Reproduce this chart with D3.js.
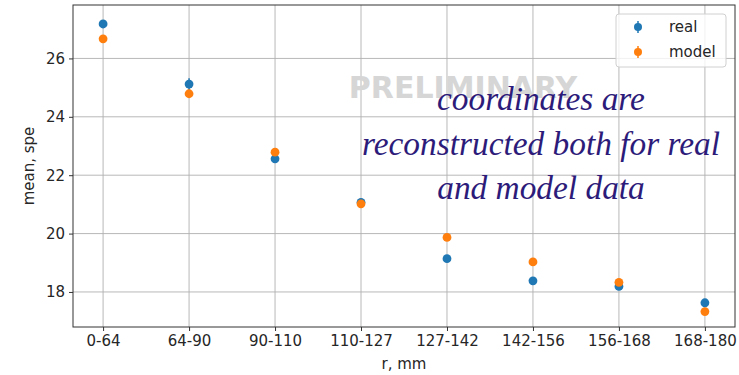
<!DOCTYPE html>
<html>
<head>
<meta charset="utf-8">
<script src="https://cdn.jsdelivr.net/npm/d3@7"></script>
<style>
  html, body { margin: 0; padding: 0; background: #fff; }
  svg { display: block; }
</style>
</head>
<body>
<svg id="chart" width="739" height="375"></svg>
<script>
// Radial bins, mm
const categories = ["0-64", "64-90", "90-110", "110-127", "127-142", "142-156", "156-168", "168-180"];
// Mean signal (spe) per bin with uncertainties
const realMean  = [27.18, 25.12, 22.56, 21.07, 19.14, 18.38, 18.19, 17.63];
const realErr   = [0.10, 0.20, 0.08, 0.08, 0.08, 0.08, 0.08, 0.08];
const modelMean = [26.67, 24.79, 22.79, 21.02, 19.87, 19.03, 18.33, 17.33];
const modelErr  = [0.06, 0.06, 0.06, 0.06, 0.06, 0.06, 0.06, 0.06];
const yTicks = [18, 20, 22, 24, 26];
const noteLines = ["coordinates are", "reconstructed both for real", "and model data"];

const svg = d3.select("#chart");
const plot = { left: 73, top: 5, right: 735, bottom: 327 };

const x = d3.scaleLinear().domain([-0.35, categories.length - 1 + 0.35]).range([plot.left, plot.right]);
const y = d3.scaleLinear().domain([16.80, 27.83]).range([plot.bottom, plot.top]);

const tickFont = "DejaVu Sans, sans-serif";
const fontSize = 15;
const textColor = "#262626";

// grid
const grid = svg.append("g");
grid.selectAll("line.gx").data(categories).join("line")
  .attr("x1", (d, i) => x(i)).attr("x2", (d, i) => x(i))
  .attr("y1", plot.top).attr("y2", plot.bottom)
  .attr("stroke", "#b0b0b0").attr("stroke-width", 0.9);
grid.selectAll("line.gy").data(yTicks).join("line")
  .attr("x1", plot.left).attr("x2", plot.right)
  .attr("y1", d => y(d)).attr("y2", d => y(d))
  .attr("stroke", "#b0b0b0").attr("stroke-width", 0.9);

// axes
const xAxis = d3.axisBottom(x).tickValues(d3.range(categories.length))
  .tickFormat(i => categories[i]).tickSize(4).tickPadding(4);
const yAxis = d3.axisLeft(y).tickValues(yTicks).tickSize(4).tickPadding(4);

const gx = svg.append("g").attr("transform", `translate(0,${plot.bottom})`).call(xAxis);
const gy = svg.append("g").attr("transform", `translate(${plot.left},0)`).call(yAxis);
[gx, gy].forEach(g => {
  g.select(".domain").remove();
  g.selectAll(".tick line").attr("stroke", "#333");
  g.selectAll(".tick text").attr("font-family", tickFont).attr("font-size", fontSize).attr("fill", textColor);
});

// frame
svg.append("rect")
  .attr("x", plot.left).attr("y", plot.top)
  .attr("width", plot.right - plot.left).attr("height", plot.bottom - plot.top)
  .attr("fill", "none").attr("stroke", "#333").attr("stroke-width", 1);

// axis labels
svg.append("text").attr("x", (plot.left + plot.right) / 2).attr("y", 369)
  .attr("text-anchor", "middle").attr("font-family", tickFont).attr("font-size", fontSize)
  .attr("fill", textColor).text("r, mm");
svg.append("text").attr("transform", `translate(34,${(plot.top + plot.bottom) / 2}) rotate(-90)`)
  .attr("text-anchor", "middle").attr("font-family", tickFont).attr("font-size", fontSize)
  .attr("fill", textColor).text("mean, spe");

// watermark
svg.append("text").attr("x", 463).attr("y", 98).attr("text-anchor", "middle")
  .attr("font-family", "DejaVu Sans, sans-serif").attr("font-weight", "bold")
  .attr("font-size", 30).attr("fill", "#d6d6d6").text("PRELIMINARY");

// series with error bars
const series = [
  { name: "real", mean: realMean, err: realErr, color: "#1f77b4" },
  { name: "model", mean: modelMean, err: modelErr, color: "#ff7f0e" }
];
series.forEach(s => {
  const g = svg.append("g");
  g.selectAll("line").data(s.mean).join("line")
    .attr("x1", (d, i) => x(i)).attr("x2", (d, i) => x(i))
    .attr("y1", (d, i) => y(d - s.err[i])).attr("y2", (d, i) => y(d + s.err[i]))
    .attr("stroke", s.color).attr("stroke-width", 1.5);
  g.selectAll("circle").data(s.mean).join("circle")
    .attr("cx", (d, i) => x(i)).attr("cy", d => y(d)).attr("r", 4.4)
    .attr("fill", s.color);
});

// annotation
const note = svg.append("g");
const noteTargetWidth = 358;
const noteText = note.selectAll("text").data(noteLines).join("text")
  .attr("x", 541).attr("y", (d, i) => 110 + i * 44.5)
  .attr("text-anchor", "middle")
  .attr("font-family", "Liberation Serif, serif").attr("font-style", "italic")
  .attr("font-size", 30).attr("fill", "#2d1b7a").text(d => d);
const widest = d3.max(noteText.nodes(), n => n.getComputedTextLength());
noteText.attr("font-size", 30 * noteTargetWidth / widest);

// legend
const leg = svg.append("g");
leg.append("rect").attr("x", 616).attr("y", 14).attr("width", 110).attr("height", 53)
  .attr("rx", 3).attr("fill", "rgba(255,255,255,0.8)").attr("stroke", "#d0d0d0");
series.forEach((s, i) => {
  const cy = 27 + i * 25;
  leg.append("line").attr("x1", 638).attr("x2", 638).attr("y1", cy - 6).attr("y2", cy + 6)
    .attr("stroke", s.color).attr("stroke-width", 1.5);
  leg.append("circle").attr("cx", 638).attr("cy", cy).attr("r", 4).attr("fill", s.color);
  leg.append("text").attr("x", 669).attr("y", cy + 5).attr("font-family", tickFont)
    .attr("font-size", fontSize).attr("fill", textColor).text(s.name);
});
</script>
</body>
</html>
